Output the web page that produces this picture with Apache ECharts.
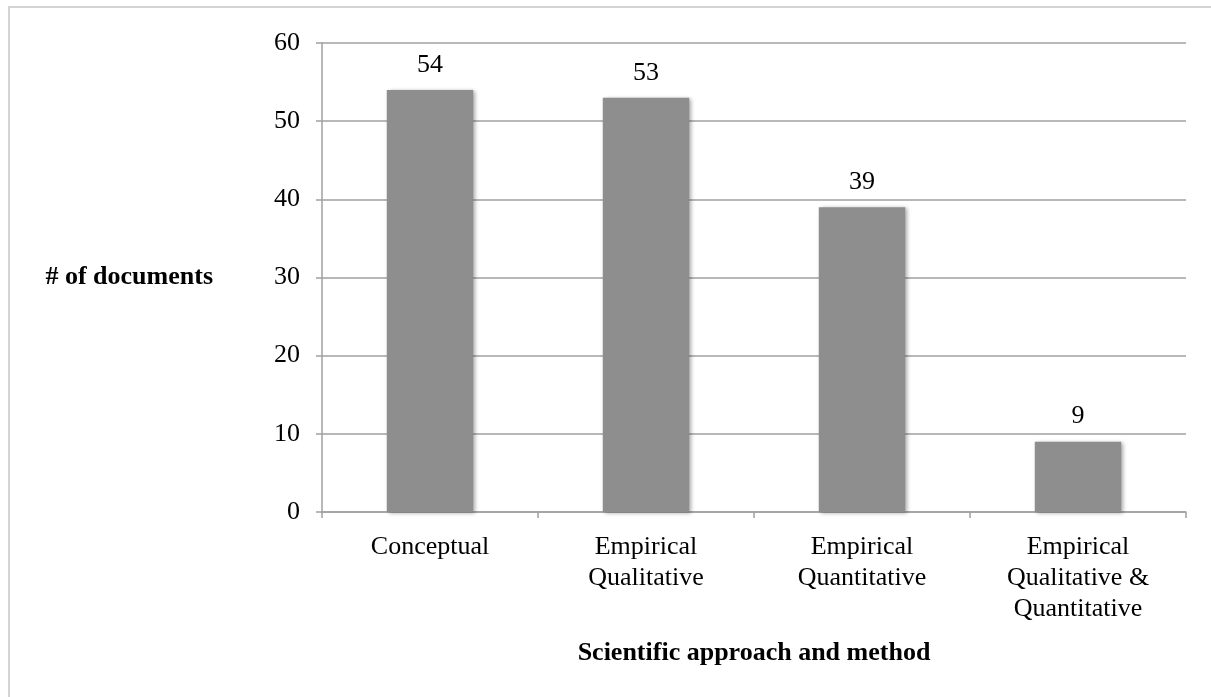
<!DOCTYPE html>
<html><head><meta charset="utf-8">
<script src="https://cdn.jsdelivr.net/npm/echarts@6/dist/echarts.min.js"></script>
<style>html,body{margin:0;padding:0;background:#fff}#c{width:1211px;height:697px}</style>
</head><body><div id="c"></div>
<script>
const categories = ['Conceptual', 'Empirical\nQualitative', 'Empirical\nQuantitative', 'Empirical\nQualitative &\nQuantitative'];
const documents = [54, 53, 39, 9];
const yTicks = [0, 10, 20, 30, 40, 50, 60];
const yAxisTitle = '# of documents';
const xAxisTitle = 'Scientific approach and method';

const font = '"Liberation Serif", "Times New Roman", serif';
const chart = echarts.init(document.getElementById('c'), null, {renderer: 'canvas'});
chart.setOption({
  animation: false,
  backgroundColor: '#fff',
  graphic: [{
    type: 'rect', shape: {x: 9, y: 7, width: 1230, height: 720},
    style: {fill: 'none', stroke: '#d4d4d4', lineWidth: 2}, silent: true, z: -1
  }],
  grid: {left: 322, right: 25, top: 43, bottom: 185, containLabel: false},
  xAxis: {
    type: 'category', data: categories,
    axisLine: {lineStyle: {color: '#a0a0a0', width: 1.5}},
    axisTick: {show: true, length: 6, inside: false, lineStyle: {color: '#a0a0a0', width: 1.5}},
    axisLabel: {color: '#000', fontFamily: font, fontSize: 26, lineHeight: 31, margin: 20, interval: 0},
    name: xAxisTitle, nameLocation: 'middle', nameGap: 128,
    nameTextStyle: {color: '#000', fontFamily: font, fontSize: 26, fontWeight: 'bold'}
  },
  yAxis: {
    type: 'value', min: yTicks[0], max: yTicks[yTicks.length - 1], interval: 10,
    axisLine: {show: true, lineStyle: {color: '#a0a0a0', width: 1.5}},
    axisTick: {show: true, length: 6, inside: false, lineStyle: {color: '#a0a0a0', width: 1.5}},
    splitLine: {show: true, lineStyle: {color: '#a0a0a0', width: 1.5}},
    axisLabel: {color: '#000', fontFamily: font, fontSize: 26, margin: 22},
    name: yAxisTitle, nameLocation: 'middle', nameRotate: 0, nameGap: 109,
    nameTextStyle: {color: '#000', fontFamily: font, fontSize: 26, fontWeight: 'bold', align: 'right', verticalAlign: 'middle', padding: [0, 0, 10, 0]}
  },
  series: [{
    type: 'bar', data: documents, barWidth: '40%',
    itemStyle: {color: '#8e8e8e', shadowColor: 'rgba(0,0,0,0.35)', shadowBlur: 4, shadowOffsetX: 2, shadowOffsetY: 1},
    label: {show: true, position: 'top', distance: 12, color: '#000', fontFamily: font, fontSize: 26}
  }]
});
</script></body></html>
